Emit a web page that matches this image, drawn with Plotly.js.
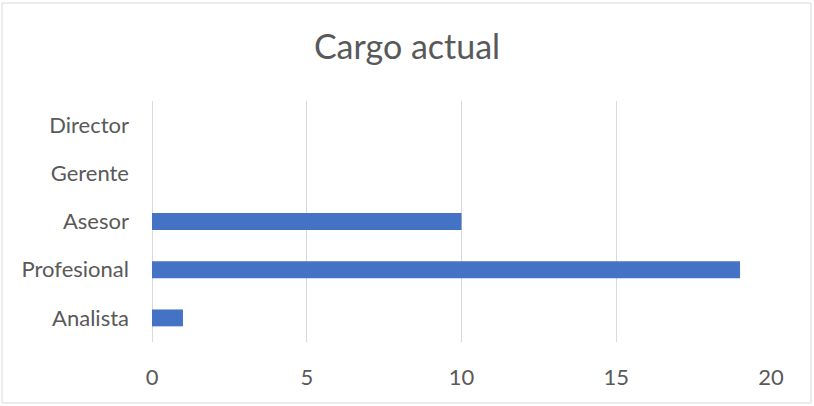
<!DOCTYPE html>
<html><head><meta charset="utf-8">
<script src="https://cdn.plot.ly/plotly-3.0.1.min.js"></script>
<style>html,body{margin:0;padding:0;background:#fff}#chart{width:814px;height:406px}</style>
</head><body><div id="chart"></div>
<script>
const categories = ["Analista", "Profesional", "Asesor", "Gerente", "Director"];
const values = [1, 19, 10, 0, 0];
const xTicks = [0, 5, 10, 15, 20];

const font = "Lato, 'Open Sans', sans-serif";
const trace = {
  type: "bar", orientation: "h",
  y: categories, x: values,
  marker: {color: "#4472C4"},
  hoverinfo: "x+y"
};
const pw = 619, ph = 241;
const layout = {
  width: 814, height: 406,
  margin: {l: 152, r: 43, t: 101, b: 64},
  paper_bgcolor: "#fff", plot_bgcolor: "#fff",
  title: {text: "Cargo actual", font: {family: font, size: 34, color: "#595959"},
          x: 0.5, xanchor: "center", y: 1 - 47/406, yanchor: "middle", yref: "container"},
  bargap: 0.65,
  showlegend: false,
  xaxis: {range: [0, 20], tickvals: xTicks, ticktext: xTicks.map(String),
          showgrid: true, gridcolor: "#d9d9d9", gridwidth: 1,
          zeroline: true, zerolinecolor: "#d9d9d9", zerolinewidth: 1,
          showline: false, ticks: "", ticklabelstandoff: 20,
          tickfont: {family: font, size: 22, color: "#595959"}, fixedrange: true},
  yaxis: {type: "category", categoryorder: "array", categoryarray: categories,
          showgrid: false, zeroline: false, showline: false, ticks: "",
          ticklabelstandoff: 22,
          tickfont: {family: font, size: 22, color: "#595959"}, fixedrange: true},
  shapes: [{type: "rect", xref: "paper", yref: "paper",
            x0: (2 - 152)/pw, x1: (811 - 152)/pw,
            y0: (342 - 403)/ph, y1: (342 - 3)/ph,
            line: {color: "#d9d9d9", width: 1}, layer: "below"}]
};
Plotly.newPlot("chart", [trace], layout, {displayModeBar: false, staticPlot: true});
</script></body></html>
